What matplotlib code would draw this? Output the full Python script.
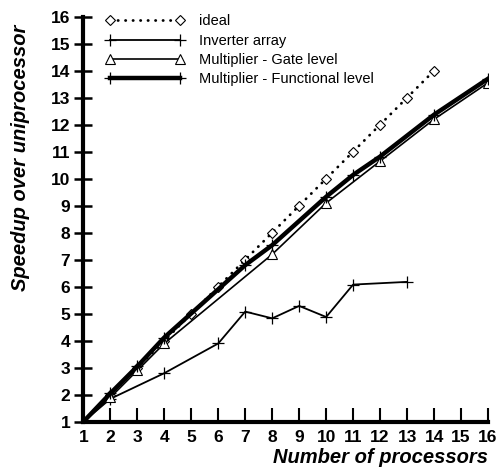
import matplotlib.pyplot as plt
import numpy as np

plt.rcParams['font.family'] = ['Liberation Sans', 'DejaVu Sans']

# processors / speedup
ideal_x = [1, 2, 3, 4, 5, 6, 7, 8, 9, 10, 11, 12, 13, 14]
ideal_y = [1, 2, 3, 4, 5, 6, 7, 8, 9, 10, 11, 12, 13, 14]

inv_x = [1, 2, 4, 6, 7, 8, 9, 10, 11, 13]
inv_y = [1, 1.85, 2.8, 3.9, 5.08, 4.83, 5.29, 4.88, 6.08, 6.18]

gate_x = [1, 2, 3, 4, 8, 10, 12, 14, 16]
gate_y = [1, 1.9, 2.9, 3.9, 7.2, 9.1, 10.65, 12.2, 13.55]

func_x = [1, 2, 3, 4, 7, 8, 10, 11, 12, 14, 16]
func_y = [1, 2.05, 3.05, 4.12, 6.8, 7.54, 9.33, 10.14, 10.82, 12.37, 13.7]

ticks = list(range(1, 17))

fig = plt.figure(figsize=(4.99, 4.75), dpi=100)
ax = fig.add_axes([0.167, 0.112, 0.811, 0.853])

ax.plot(ideal_x, ideal_y, color='black', linestyle=(0, (0.1, 2.6)), linewidth=2,
        dash_capstyle='round', marker='D', markersize=5.5, markerfacecolor='white',
        markeredgewidth=0.8, label='ideal')
ax.plot(inv_x, inv_y, color='black', linewidth=1.3, marker='+', markersize=8,
        markeredgewidth=0.9, label='Inverter array')
ax.plot(gate_x, gate_y, color='black', linewidth=1.2, marker='^', markersize=7,
        markerfacecolor='white', markeredgewidth=0.8, label='Multiplier - Gate level')
ax.plot(func_x, func_y, color='black', linewidth=3.2, marker='+', markersize=8,
        markeredgewidth=0.9, label='Multiplier - Functional level')

ax.set_xlim(1, 16)
ax.set_ylim(1, 16)
ax.set_xticks(ticks)
ax.set_yticks(ticks)
ax.spines['top'].set_visible(False)
ax.spines['right'].set_visible(False)
ax.spines['left'].set_linewidth(3)
ax.spines['bottom'].set_linewidth(3)
ax.tick_params(axis='x', direction='in', length=10, width=1.5, pad=6, labelsize=12.5)
ax.tick_params(axis='y', direction='inout', length=13, width=1.8, pad=3, labelsize=12.5)
for lab in ax.get_xticklabels() + ax.get_yticklabels():
    lab.set_fontweight('bold')

ax.set_xlabel('Number of processors', fontsize=14.5, fontweight='bold',
              fontstyle='italic', loc='right', labelpad=2)
fig.text(0.042, 0.948, 'Speedup over uniprocessor', rotation=90, ha='center',
         va='top', fontsize=14.5, fontweight='bold', fontstyle='italic')

ax.legend(loc='upper left', bbox_to_anchor=(0.04, 1.02), frameon=False,
          numpoints=2, handlelength=5.4, handletextpad=1.0, labelspacing=0.36,
          fontsize=10.5, borderaxespad=0)

fig.savefig('out.png', dpi=100)
